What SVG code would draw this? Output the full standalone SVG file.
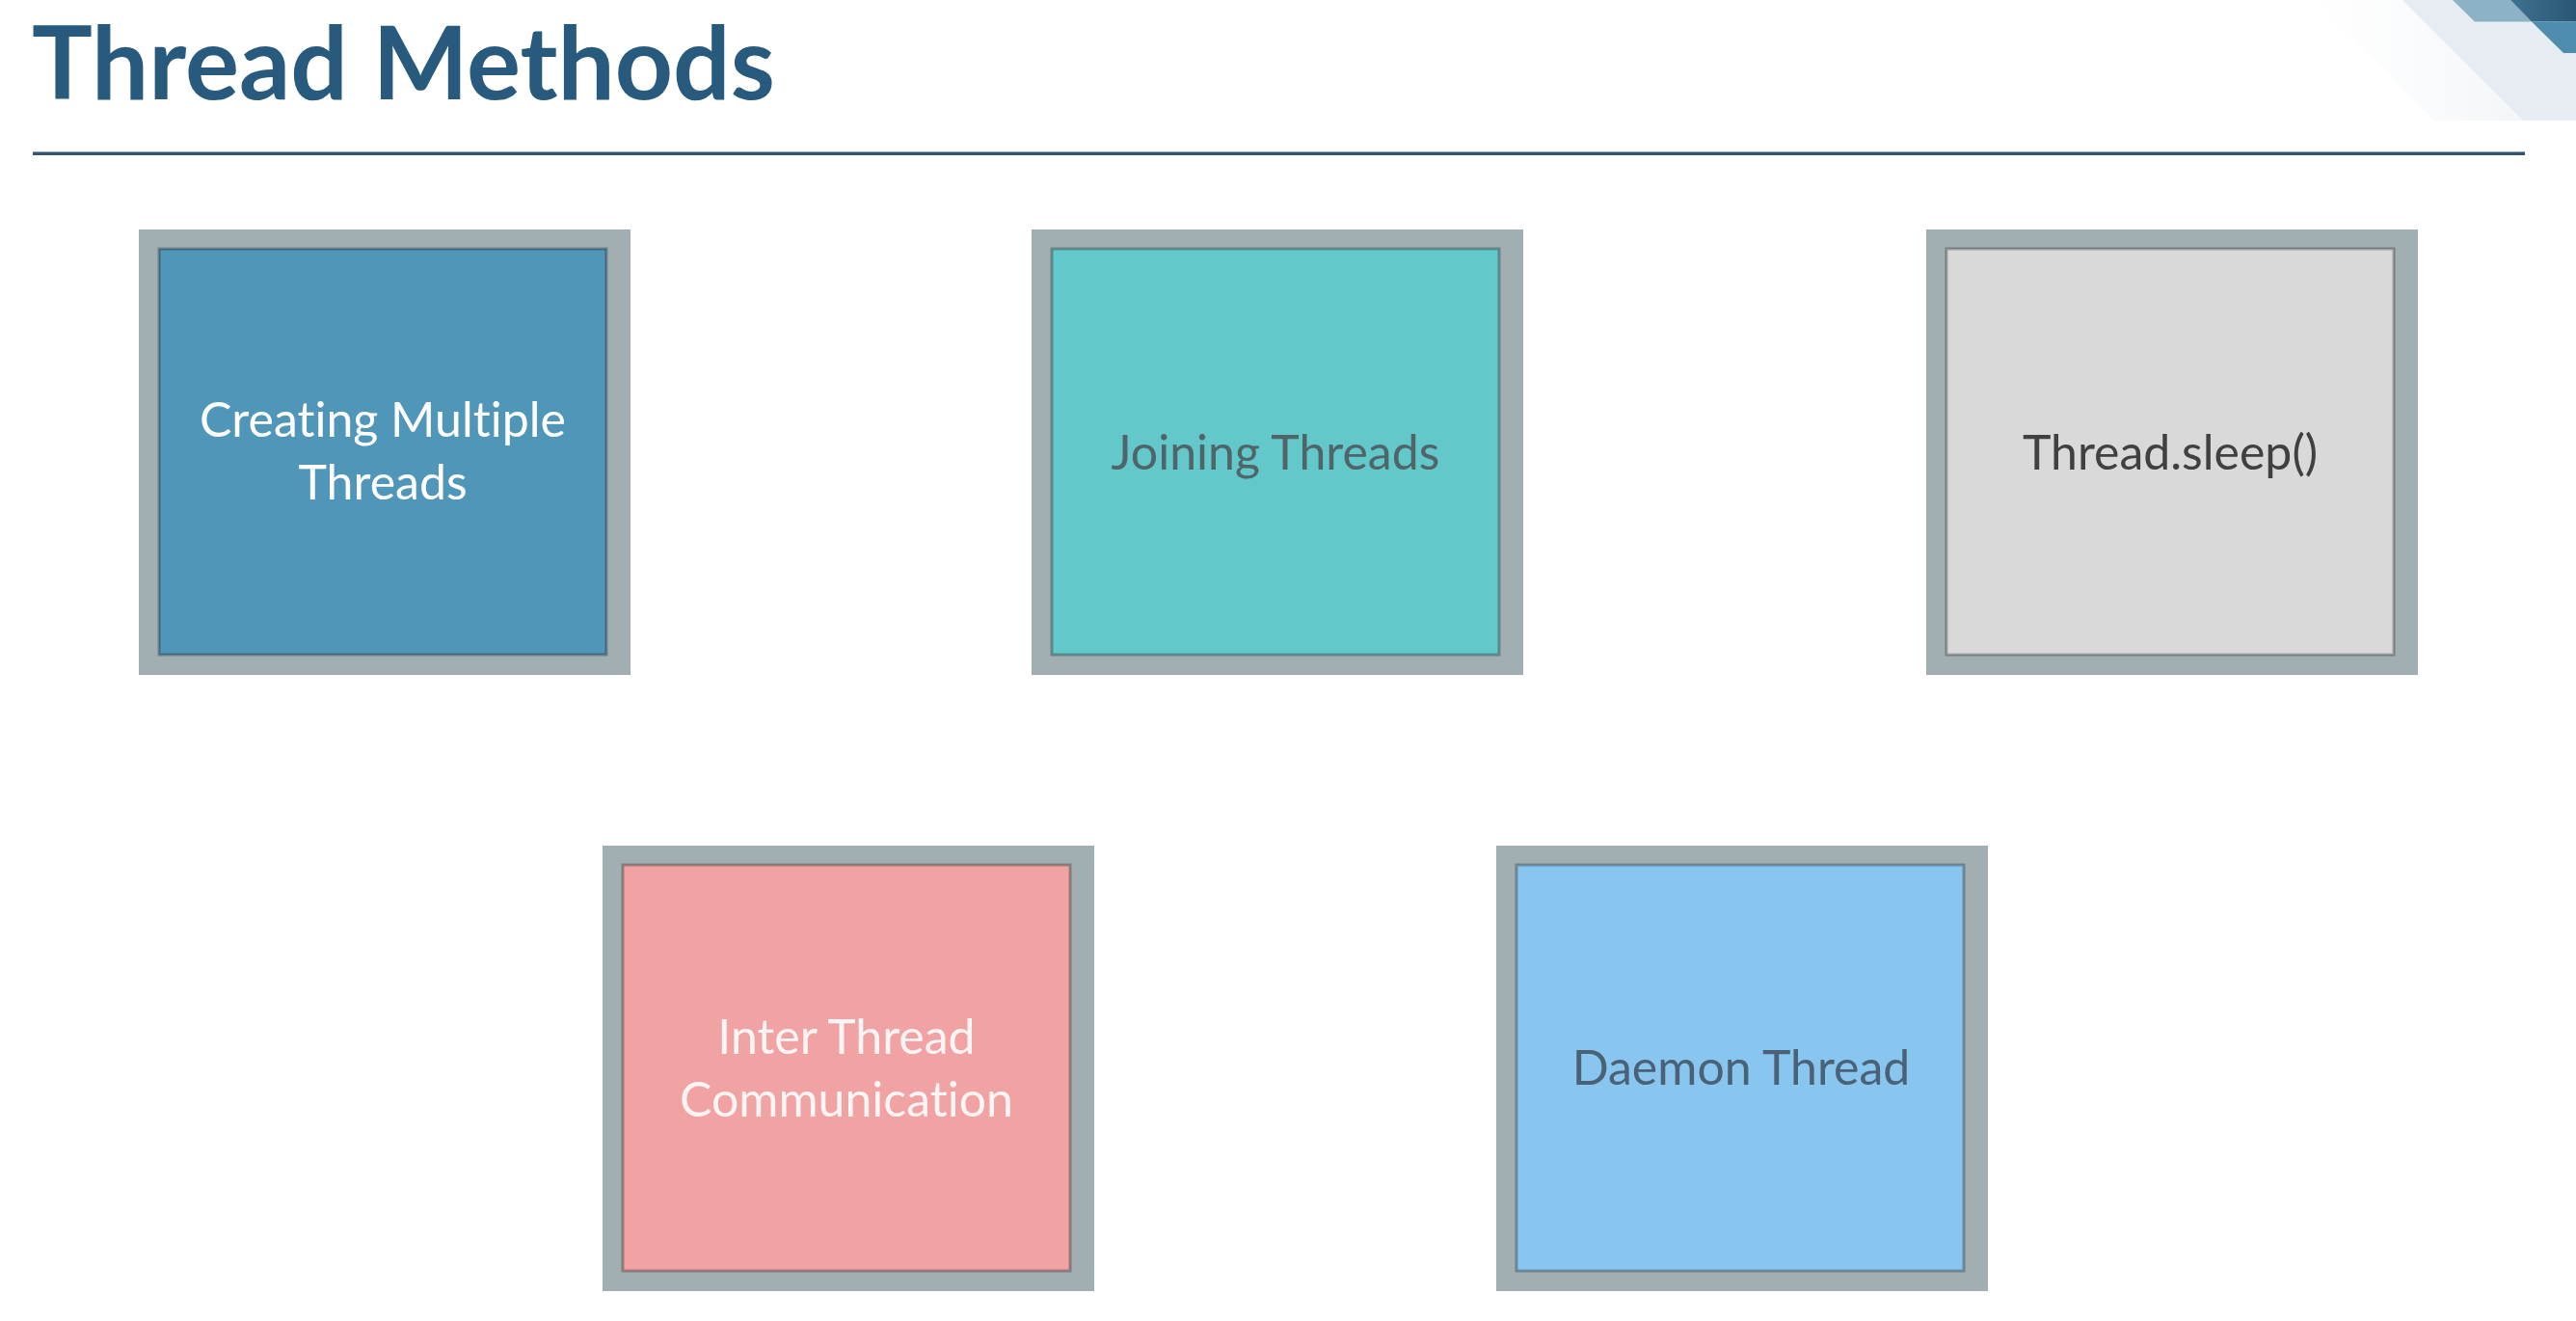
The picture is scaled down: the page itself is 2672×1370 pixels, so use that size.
<svg xmlns="http://www.w3.org/2000/svg" width="2672" height="1370" viewBox="0 0 2672 1370">
<defs>
<style>
.frame{fill:#a2afb2}
.inner{stroke:#000;stroke-opacity:0.28;stroke-width:3}
.lbl{font-family:Lato,"Open Sans","Liberation Sans",sans-serif;font-size:50px;text-anchor:middle;font-variant-ligatures:none;font-feature-settings:"liga" 0}
.title{font-family:Lato,"Open Sans","Liberation Sans",sans-serif;font-weight:bold;font-size:105px;fill:#285a7e}
</style>
<linearGradient id="dark" x1="0" y1="0" x2="1" y2="0">
<stop offset="0" stop-color="#3e7191"/>
<stop offset="1" stop-color="#2a5676"/>
</linearGradient>
<linearGradient id="faint" x1="0" y1="0" x2="1" y2="0">
<stop offset="0" stop-color="#f6f8fa" stop-opacity="0"/>
<stop offset="1" stop-color="#f3f6f8"/>
</linearGradient>
</defs>
<rect width="2672" height="1370" fill="#ffffff"/>
<g id="decoration">
<polygon points="2400,0 2492,0 2617,125 2525,125" fill="url(#faint)"/>
<polygon points="2492,0 2672,0 2672,125 2617,125" fill="#e6ecf1"/>
<polygon points="2544,0 2604,0 2626,22.5 2567,22.5" fill="#8cb2c6"/>
<polygon points="2604,0 2672,0 2672,22.5 2626,22.5" fill="url(#dark)"/>
<polygon points="2626,22.5 2672,22.5 2672,55 2659,55" fill="#4f8dae"/>
</g>
<g id="header">
<text class="title" x="33" y="103">Thread Methods</text>
<rect x="34" y="157.5" width="2585" height="3.5" fill="#33546e"/>
</g>
<g id="connectors"></g>
<g id="node-creating">
<rect class="frame" x="144" y="238" width="510" height="462"/>
<rect class="inner" x="165" y="258" width="464" height="421" fill="#5096b8"/>
<text class="lbl" x="397" y="453" fill="#ffffff">Creating Multiple</text>
<text class="lbl" x="397" y="518" fill="#ffffff">Threads</text>
</g>
<g id="node-joining">
<rect class="frame" x="1070" y="238" width="510" height="462"/>
<rect class="inner" x="1091" y="258" width="464" height="421" fill="#63c8c9"/>
<text class="lbl" x="1323" y="487" fill="#4f6569">Joining Threads</text>
</g>
<g id="node-sleep">
<rect class="frame" x="1998" y="238" width="510" height="462"/>
<rect class="inner" x="2019" y="258" width="464" height="421" fill="#d9d9d9"/>
<text class="lbl" x="2251" y="487" fill="#404040">Thread.sleep()</text>
</g>
<g id="node-inter">
<rect class="frame" x="625" y="877" width="510" height="462"/>
<rect class="inner" x="646" y="897" width="464" height="421" fill="#f1a2a3"/>
<text class="lbl" x="878" y="1093" fill="#fff5f5">Inter Thread</text>
<text class="lbl" x="878" y="1158" fill="#fff5f5">Communication</text>
</g>
<g id="node-daemon">
<rect class="frame" x="1552" y="877" width="510" height="462"/>
<rect class="inner" x="1573" y="897" width="464" height="421" fill="#88c6f0"/>
<text class="lbl" x="1806" y="1125" fill="#4a6176">Daemon Thread</text>
</g>
</svg>
